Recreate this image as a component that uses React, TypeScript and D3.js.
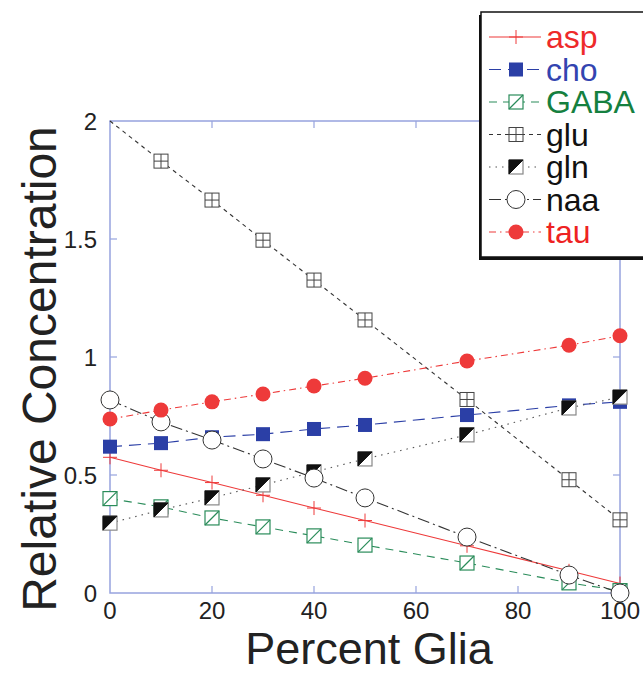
import * as d3 from "d3";

// percent glia positions
const xs = [0, 10, 20, 30, 40, 50, 70, 90, 100];

const asp = [0.575, 0.52, 0.468, 0.414, 0.36, 0.307, 0.2, 0.094, 0.04];
const cho = [0.62, 0.635, 0.66, 0.673, 0.695, 0.712, 0.754, 0.795, 0.81];
const gaba = [0.4, 0.365, 0.318, 0.28, 0.242, 0.203, 0.127, 0.043, 0.01];
const glu = [2.0, 1.83, 1.665, 1.495, 1.326, 1.157, 0.82, 0.48, 0.31];
const gln = [0.296, 0.352, 0.403, 0.458, 0.513, 0.568, 0.67, 0.784, 0.83];
const naa = [0.818, 0.725, 0.648, 0.568, 0.487, 0.403, 0.237, 0.076, 0.0];
const tau = [0.737, 0.775, 0.81, 0.843, 0.877, 0.91, 0.983, 1.05, 1.09];

const xTicks = [0, 20, 40, 60, 80, 100];
const yTicks = [0, 0.5, 1, 1.5, 2];

type Mark = "plus" | "fsq" | "slash" | "grid" | "half" | "ocirc" | "fcirc";

const series: { name: string; values: number[]; color: string; text: string; dash: string; mark: Mark; skipFirst?: boolean }[] = [
  { name: "asp", values: asp, color: "#ee3a3a", text: "#ee2a2a", dash: "", mark: "plus" },
  { name: "cho", values: cho, color: "#2b3fa6", text: "#3344b0", dash: "12,7", mark: "fsq" },
  { name: "GABA", values: gaba, color: "#2a8c5a", text: "#15803f", dash: "8,6", mark: "slash" },
  { name: "glu", values: glu, color: "#333", text: "#111", dash: "4,4", mark: "grid", skipFirst: true },
  { name: "gln", values: gln, color: "#555", text: "#111", dash: "1.5,5", mark: "half" },
  { name: "naa", values: naa, color: "#333", text: "#111", dash: "12,4,2,4", mark: "ocirc" },
  { name: "tau", values: tau, color: "#ee3a3a", text: "#ee2222", dash: "7,4,1.5,4", mark: "fcirc" },
];

const font = "'Liberation Sans', Arial, Helvetica, sans-serif";
const axisColor = "#97a3de";

const x = d3.scaleLinear().domain([0, 100]).range([110, 620]);
const y = d3.scaleLinear().domain([0, 2]).range([593, 121]);

function Marker({ kind, cx, cy, color }: { kind: Mark; cx: number; cy: number; color: string }) {
  const h = 7;
  switch (kind) {
    case "plus":
      return (
        <g stroke={color} strokeWidth={1}>
          <line x1={cx - 7} x2={cx + 7} y1={cy} y2={cy} />
          <line x1={cx} x2={cx} y1={cy - 7} y2={cy + 7} />
        </g>
      );
    case "fsq":
      return <rect x={cx - h} y={cy - h} width={2 * h} height={2 * h} fill={color} />;
    case "slash":
      return (
        <g stroke={color} strokeWidth={1.2} fill="white">
          <rect x={cx - h} y={cy - h} width={2 * h} height={2 * h} />
          <line x1={cx - h} y1={cy + h} x2={cx + h} y2={cy - h} />
        </g>
      );
    case "grid":
      return (
        <g stroke="#444" strokeWidth={1} fill="white">
          <rect x={cx - h} y={cy - h} width={2 * h} height={2 * h} />
          <line x1={cx - h} x2={cx + h} y1={cy} y2={cy} />
          <line x1={cx} x2={cx} y1={cy - h} y2={cy + h} />
        </g>
      );
    case "half":
      return (
        <g>
          <rect x={cx - h} y={cy - h} width={2 * h} height={2 * h} fill="white" stroke="#888" strokeWidth={1.2} />
          <polygon points={`${cx - h},${cy - h} ${cx + h},${cy - h} ${cx - h},${cy + h}`} fill="#111" stroke="#111" strokeWidth={1} />
        </g>
      );
    case "ocirc":
      return <circle cx={cx} cy={cy} r={9} fill="white" stroke="#333" strokeWidth={1} />;
    case "fcirc":
      return <circle cx={cx} cy={cy} r={7.5} fill={color} />;
  }
}

export default function App() {
  const line = d3
    .line<number>()
    .x((_, i) => x(xs[i]))
    .y((d) => y(d));

  const legendTop = 37;
  const legendStep = 32.5;

  return (
    <svg width={643} height={674} style={{ display: "block", position: "absolute", left: 0, top: 0 }} fontFamily={font}>
      <rect width={643} height={674} fill="white" />

      {/* frame */}
      <rect x={110} y={121} width={510} height={472} fill="none" stroke={axisColor} strokeWidth={1.5} />
      {xTicks.slice(1, -1).map((t) => (
        <g key={"xt" + t} stroke={axisColor} strokeWidth={1.2}>
          <line x1={x(t)} x2={x(t)} y1={593} y2={586} />
          <line x1={x(t)} x2={x(t)} y1={121} y2={128} />
        </g>
      ))}
      {yTicks.slice(1, -1).map((t) => (
        <g key={"yt" + t} stroke={axisColor} strokeWidth={1.2}>
          <line x1={110} x2={117} y1={y(t)} y2={y(t)} />
          <line x1={620} x2={613} y1={y(t)} y2={y(t)} />
        </g>
      ))}

      {/* tick labels */}
      {xTicks.map((t) => (
        <text key={"xl" + t} x={x(t)} y={619} textAnchor="middle" fontSize={24} fill="#222">
          {t}
        </text>
      ))}
      {yTicks.map((t) => (
        <text key={"yl" + t} x={97} y={y(t) + 9} textAnchor="end" fontSize={24} fill="#222">
          {t}
        </text>
      ))}

      {/* titles */}
      <text x={369} y={664} textAnchor="middle" fontSize={45} fill="#222">
        Percent Glia
      </text>
      <text transform="translate(56,369) rotate(-90)" textAnchor="middle" fontSize={48} fill="#222">
        Relative Concentration
      </text>

      {/* series */}
      {series.map((s) => (
        <g key={s.name}>
          <path d={line(s.values) ?? ""} fill="none" stroke={s.color} strokeWidth={1.1} strokeDasharray={s.dash} />
          {s.values.map((v, i) =>
            s.skipFirst && i === 0 ? null : <Marker key={i} kind={s.mark} cx={x(xs[i])} cy={y(v)} color={s.color} />
          )}
        </g>
      ))}

      {/* legend */}
      <rect x={479} y={15} width={170} height={245} fill="#111" />
      <rect x={481} y={12} width={170} height={245} fill="white" stroke="#111" strokeWidth={1.5} />
      {series.map((s, i) => {
        const cy = legendTop + i * legendStep;
        return (
          <g key={"lg" + s.name}>
            <line x1={489} x2={541} y1={cy} y2={cy} stroke={s.color} strokeWidth={1.1} strokeDasharray={s.dash} />
            <Marker kind={s.mark} cx={516} cy={cy} color={s.color} />
            <text x={546} y={cy + 11} fontSize={32} fill={s.text}>
              {s.name}
            </text>
          </g>
        );
      })}
    </svg>
  );
}
